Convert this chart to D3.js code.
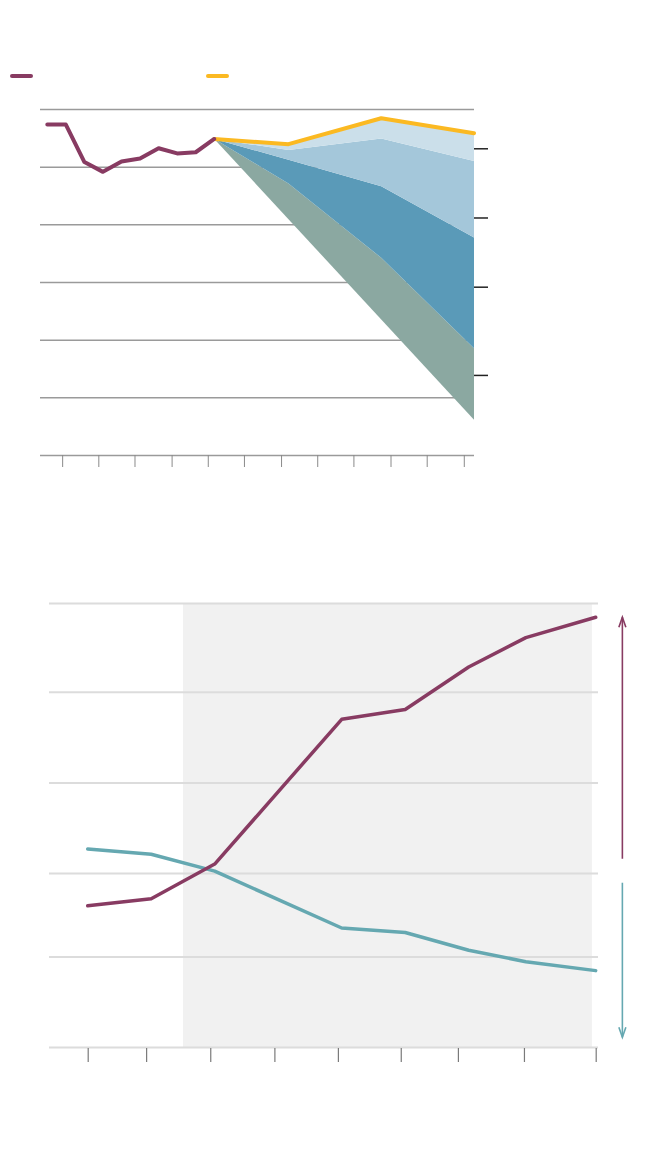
<!DOCTYPE html>
<html>
<head>
<meta charset="utf-8">
<script src="https://cdn.jsdelivr.net/npm/d3@7"></script>
<style>
  body { margin: 0; background: #fff; }
  svg { display: block; }
</style>
</head>
<body>
<div id="chart"></div>
<script>
// ---- top chart data ----
var histYears = [2005, 2006, 2007, 2008, 2009, 2010, 2011, 2012, 2013, 2014];
var histValues = [57.3, 57.3, 50.8, 49.1, 50.9, 51.4, 53.2, 52.3, 52.5, 54.8];

var projYears = [2014, 2018, 2023, 2028];
var targetValues = [54.8, 53.9, 58.4, 55.8];     // yellow line
var bandTop = [54.8, 52.9, 54.9, 51.0];          // lightest band lower edge
var bandMid = [54.8, 51.2, 46.6, 37.7];          // light blue lower edge
var bandLow = [54.8, 47.1, 34.2, 18.5];          // mid blue lower edge
var floorYears = [2014, 2028];
var floorValues = [54.8, 6.1];                   // grey-green lower edge

var topGrid = [0, 10, 20, 30, 40, 50, 60];
var topTicks = [2005.8, 2007.75, 2009.7, 2011.7, 2013.65, 2015.6, 2017.6,
                2019.55, 2021.5, 2023.5, 2025.45, 2027.45];
var endMarks = [53.1, 41.1, 29.1, 13.8];

// ---- bottom chart data ----
var lowYears = [1950, 1960, 1970, 1990, 2000, 2010, 2019, 2030];
var riseValues = [1.59, 1.67, 2.06, 3.69, 3.80, 4.28, 4.61, 4.84];
var fallValues = [2.23, 2.17, 1.98, 1.34, 1.29, 1.09, 0.96, 0.86];
var lowGrid = [0, 1.02, 1.96, 2.98, 4.0, 5.0];
var lowTicks = [1950, 1959.2, 1969.3, 1979.4, 1989.4, 1999.3, 2008.3, 2018.7, 2030];
var shadeRange = [1965, 2029.4];
var arrowX = 2034.2;
var arrowUp = [2.12, 4.84];
var arrowDown = [1.85, 0.11];

var purple = "#883b62", yellow = "#fbb922", teal = "#65a8b1";

var svg = d3.select("#chart").append("svg")
  .attr("width", 670)
  .attr("height", 1158);

// ================= top chart =================
var x1 = d3.scaleLinear().domain([2005, 2028]).range([47.3, 474]);
var y1 = d3.scaleLinear().domain([0, 60]).range([455, 109]);

// legend swatches
svg.append("line").attr("x1", 12).attr("x2", 31).attr("y1", 76).attr("y2", 76)
  .attr("stroke", purple).attr("stroke-width", 4).attr("stroke-linecap", "round");
svg.append("line").attr("x1", 208).attr("x2", 227).attr("y1", 76).attr("y2", 76)
  .attr("stroke", yellow).attr("stroke-width", 4).attr("stroke-linecap", "round");

// grid
svg.append("g")
  .attr("transform", "translate(474,0)")
  .call(d3.axisLeft(y1).tickValues(topGrid).tickSize(434).tickFormat(""))
  .call(function(g) {
    g.select(".domain").remove();
    g.selectAll(".tick line").attr("stroke", "#9a9a9a").attr("stroke-width", 1.5);
  });

// x ticks
svg.append("g")
  .attr("transform", "translate(0,455)")
  .call(d3.axisBottom(x1).tickValues(topTicks).tickSize(12).tickFormat(""))
  .call(function(g) {
    g.select(".domain").remove();
    g.selectAll(".tick line").attr("stroke", "#8a8a8a").attr("stroke-width", 1);
  });

// bands: upper edge points followed by lower edge reversed
function band(upYears, up, downYears, down) {
  var pts = upYears.map(function(d, i) { return [x1(d), y1(up[i])]; });
  var low = downYears.map(function(d, i) { return [x1(d), y1(down[i])]; }).reverse();
  return d3.line()(pts.concat(low)) + "Z";
}

var bands = [
  {up: [projYears, bandLow], down: [floorYears, floorValues], color: "#8ba8a1"},
  {up: [projYears, bandMid], down: [projYears, bandLow], color: "#5a9ab8"},
  {up: [projYears, bandTop], down: [projYears, bandMid], color: "#a4c7da"},
  {up: [projYears, targetValues], down: [projYears, bandTop], color: "#cbdfea"}
];
svg.selectAll(".band")
  .data(bands)
  .enter()
  .append("path")
    .attr("class", "band")
    .attr("d", function(d) { return band(d.up[0], d.up[1], d.down[0], d.down[1]); })
    .attr("fill", function(d) { return d.color; });

// end marks on the right
svg.selectAll(".endmark")
  .data(endMarks)
  .enter()
  .append("line")
    .attr("class", "endmark")
    .attr("x1", x1(2028)).attr("x2", x1(2028) + 14)
    .attr("y1", function(d) { return y1(d); })
    .attr("y2", function(d) { return y1(d); })
    .attr("stroke", "#222").attr("stroke-width", 1.5);

var line1 = d3.line()
  .x(function(d) { return x1(d[0]); })
  .y(function(d) { return y1(d[1]); });

svg.append("path")
  .attr("d", line1(d3.zip(projYears, targetValues)))
  .attr("fill", "none").attr("stroke", yellow).attr("stroke-width", 4)
  .attr("stroke-linejoin", "round").attr("stroke-linecap", "round");

svg.append("path")
  .attr("d", line1(d3.zip(histYears, histValues)))
  .attr("fill", "none").attr("stroke", purple).attr("stroke-width", 4)
  .attr("stroke-linejoin", "round").attr("stroke-linecap", "round");

// ================= bottom chart =================
var x2 = d3.scaleLinear().domain([1950, 2030]).range([87.7, 595.7]);
var y2 = d3.scaleLinear().domain([0, 5]).range([1047, 603]);

svg.append("rect")
  .attr("x", x2(shadeRange[0]))
  .attr("width", x2(shadeRange[1]) - x2(shadeRange[0]))
  .attr("y", y2(5))
  .attr("height", y2(0) - y2(5))
  .attr("fill", "#f1f1f1");

svg.append("g")
  .attr("transform", "translate(598,0)")
  .call(d3.axisLeft(y2).tickValues(lowGrid).tickSize(549).tickFormat(""))
  .call(function(g) {
    g.select(".domain").remove();
    g.selectAll(".tick line").attr("stroke", "#dcdcdc").attr("stroke-width", 2);
  });

svg.append("g")
  .attr("transform", "translate(0,1048)")
  .call(d3.axisBottom(x2).tickValues(lowTicks).tickSize(14).tickFormat(""))
  .call(function(g) {
    g.select(".domain").remove();
    g.selectAll(".tick line").attr("stroke", "#7a7a7a").attr("stroke-width", 1.2);
  });

var line2 = d3.line()
  .x(function(d) { return x2(d[0]); })
  .y(function(d) { return y2(d[1]); });

svg.append("path")
  .attr("d", line2(d3.zip(lowYears, fallValues)))
  .attr("fill", "none").attr("stroke", teal).attr("stroke-width", 3.5)
  .attr("stroke-linejoin", "round").attr("stroke-linecap", "round");

svg.append("path")
  .attr("d", line2(d3.zip(lowYears, riseValues)))
  .attr("fill", "none").attr("stroke", purple).attr("stroke-width", 3.5)
  .attr("stroke-linejoin", "round").attr("stroke-linecap", "round");

// arrows
function arrow(vals, color) {
  var ax = x2(arrowX), ya = y2(vals[0]), yb = y2(vals[1]);
  var dir = yb < ya ? 1 : -1;
  svg.append("line")
    .attr("x1", ax).attr("x2", ax).attr("y1", ya).attr("y2", yb)
    .attr("stroke", color).attr("stroke-width", 1.6);
  svg.append("path")
    .attr("d", "M" + (ax - 3.5) + "," + (yb + dir * 10) + "L" + ax + "," + yb + "L" + (ax + 3.5) + "," + (yb + dir * 10))
    .attr("fill", "none").attr("stroke", color).attr("stroke-width", 1.6);
}
arrow(arrowUp, purple);
arrow(arrowDown, teal);
</script>
</body>
</html>
